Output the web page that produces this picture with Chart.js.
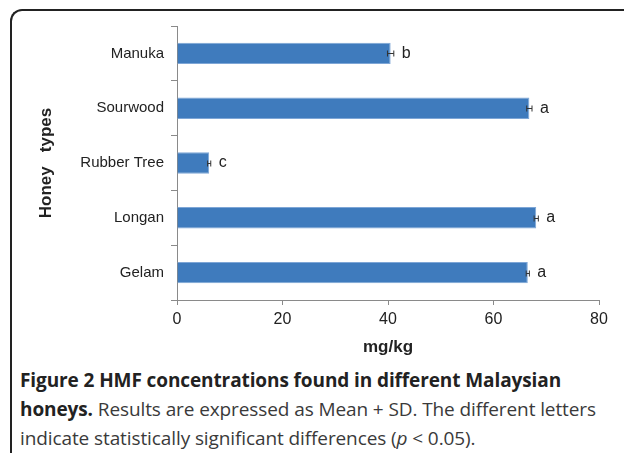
<!DOCTYPE html>
<html lang="en">
<head>
  <meta charset="UTF-8" />
  <title>HMF concentrations</title>
  <script src="https://cdn.jsdelivr.net/npm/chart.js"></script>
  <style>
    html, body {
      margin: 0;
      padding: 0;
      background: #ffffff;
      width: 624px;
      height: 453px;
      overflow: hidden;
    }
    .frame {
      position: absolute;
      left: 10px;
      top: 9px;
      width: 700px;
      height: 500px;
      border-top: 2px solid #222;
      border-left: 2px solid #222;
      border-top-left-radius: 12px;
    }
    #chartBox {
      position: absolute;
      left: 0;
      top: 0;
      width: 624px;
      height: 362px;
    }
    .caption {
      position: absolute;
      left: 20px;
      top: 366px;
      font-family: "Open Sans", sans-serif;
      font-size: 19px;
      line-height: 29px;
      color: #3a3a3a;
      white-space: nowrap;
      letter-spacing: -0.1px;
    }
    .caption b {
      color: #222;
      font-weight: 700;
    }
  </style>
</head>
<body>
<div class="frame"></div>
<div id="chartBox"><canvas id="hmfChart"></canvas></div>
<div class="caption">
  <div><b>Figure 2 HMF concentrations found in different Malaysian</b></div>
  <div><b>honeys.</b> Results are expressed as Mean + SD. The different letters</div>
  <div>indicate statistically significant differences (<i>p</i> &lt; 0.05).</div>
</div>

<script>
// honey types from top to bottom, as in the figure
const honeyTypes = ['Manuka', 'Sourwood', 'Rubber Tree', 'Longan', 'Gelam'];
const hmfMean = [40.5, 66.8, 6.1, 68.1, 66.5];
const hmfSD = [0.6, 0.5, 0.3, 0.4, 0.3];
const groupLetters = ['b', 'a', 'c', 'a', 'a'];
const xTicks = [0, 20, 40, 60, 80];

const FONT = '"Liberation Sans", Arial, sans-serif';

// error bars + significance letters drawn on top of the bars
const errorBarPlugin = {
  id: 'errorBars',
  afterDatasetsDraw(chart) {
    const ctx = chart.ctx;
    const xs = chart.scales.x;
    const meta = chart.getDatasetMeta(0);
    ctx.save();
    ctx.strokeStyle = '#333';
    ctx.lineWidth = 1;
    meta.data.forEach((bar, i) => {
      const y = Math.round(bar.y) + 0.5;
      const x0 = xs.getPixelForValue(hmfMean[i] - hmfSD[i]);
      const x1 = xs.getPixelForValue(hmfMean[i] + hmfSD[i]);
      ctx.beginPath();
      ctx.moveTo(x0, y);
      ctx.lineTo(x1, y);
      ctx.moveTo(x1, y - 3);
      ctx.lineTo(x1, y + 3);
      ctx.moveTo(x0, y - 3);
      ctx.lineTo(x0, y + 3);
      ctx.stroke();

      ctx.fillStyle = '#222';
      ctx.font = '16px ' + FONT;
      ctx.textAlign = 'left';
      ctx.textBaseline = 'middle';
      ctx.fillText(groupLetters[i], x1 + 8, bar.y);
    });
    ctx.restore();
  }
};

const ctx = document.getElementById('hmfChart').getContext('2d');
new Chart(ctx, {
  type: 'bar',
  data: {
    labels: honeyTypes,
    datasets: [{
      data: hmfMean,
      backgroundColor: '#3f7bbd',
      borderColor: '#7ea6d6',
      borderWidth: 1,
      categoryPercentage: 1.0,
      barPercentage: 0.39
    }]
  },
  options: {
    indexAxis: 'y',
    responsive: true,
    maintainAspectRatio: false,
    animation: false,
    layout: {
      padding: { left: 30, right: 25, top: 26, bottom: 0 }
    },
    plugins: {
      legend: { display: false },
      tooltip: { enabled: false }
    },
    scales: {
      x: {
        min: 0,
        max: 80,
        afterFit: s => { s.height = 62; },
        afterBuildTicks: s => { s.ticks = xTicks.map(v => ({ value: v })); },
        border: { color: '#8a8a8a', width: 1 },
        grid: {
          drawOnChartArea: false,
          drawTicks: true,
          tickLength: 5,
          color: '#8a8a8a'
        },
        ticks: {
          color: '#222',
          padding: 5,
          font: { family: FONT, size: 16 }
        },
        title: {
          display: true,
          text: 'mg/kg',
          color: '#222',
          padding: { top: 0, bottom: 4 },
          font: { family: FONT, size: 17, weight: 'bold' }
        }
      },
      y: {
        afterFit: s => { s.width = 147; },
        border: { color: '#8a8a8a', width: 1 },
        grid: {
          offset: true,
          drawOnChartArea: false,
          drawTicks: true,
          tickLength: 6,
          color: '#8a8a8a'
        },
        ticks: {
          color: '#222',
          padding: 7,
          font: { family: FONT, size: 15 }
        },
        title: {
          display: true,
          text: 'Honey   types',
          color: '#222',
          padding: { top: 6, bottom: 0 },
          font: { family: FONT, size: 17, weight: 'bold' }
        }
      }
    }
  },
  plugins: [errorBarPlugin]
});
</script>
</body>
</html>
